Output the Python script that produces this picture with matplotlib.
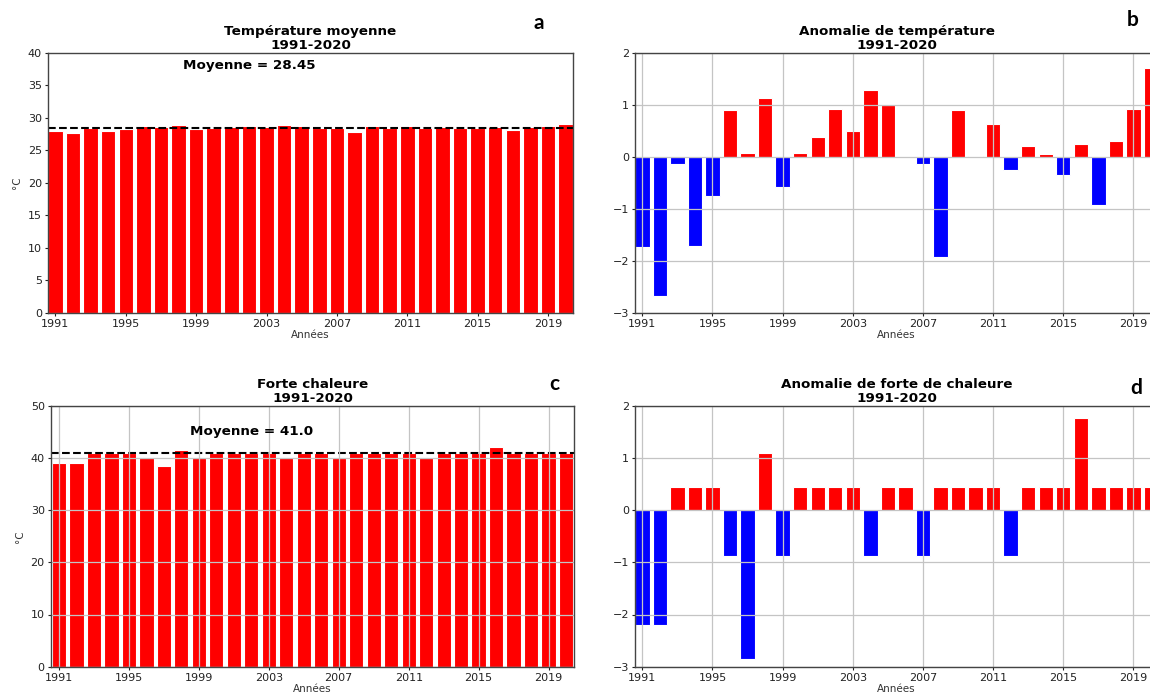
import matplotlib
matplotlib.use('Agg')
import matplotlib.pyplot as plt

years = list(range(1991, 2021))

temp_mean = [27.9, 27.6, 28.4, 27.9, 28.2, 28.7, 28.5, 28.8, 28.26, 28.47,
             28.57, 28.75, 28.6, 28.85, 28.77, 28.45, 28.4, 27.83, 28.74, 28.45,
             28.65, 28.37, 28.52, 28.47, 28.34, 28.52, 28.16, 28.55, 28.74, 29.0]
temp_anom = [-1.73, -2.68, -0.135, -1.71, -0.75, 0.89, 0.08, 1.13, -0.59, 0.064,
             0.386, 0.92, 0.49, 1.29, 0.99, 0.0, -0.15, -1.92, 0.90, 0.01,
             0.62, -0.26, 0.21, 0.06, -0.35, 0.245, -0.92, 0.31, 0.92, 1.70]
heat = [39, 39, 41, 41, 41, 40, 38.5, 41.5, 40, 41,
        41, 41, 41, 40, 41, 41, 40, 41, 41, 41,
        41, 40, 41, 41, 41, 42, 41, 41, 41, 41]
heat_anom = [-2.2, -2.2, 0.44, 0.44, 0.44, -0.88, -2.86, 1.1, -0.88, 0.44,
             0.44, 0.44, 0.44, -0.88, 0.44, 0.44, -0.88, 0.44, 0.44, 0.44,
             0.44, -0.88, 0.44, 0.44, 0.44, 1.76, 0.44, 0.44, 0.44, 0.44]
mean_temp = 28.45
mean_heat = 41.0
xticks = list(range(1991, 2021, 4))

W, H = 1150, 700
fig = plt.figure(figsize=(W / 100, H / 100), dpi=100)


def px_axes(l, t, r, b):
    return fig.add_axes([l / W, 1 - b / H, (r - l) / W, (b - t) / H])


ax_a = px_axes(48.3, 52.7, 572.7, 312.7)
ax_b = px_axes(635.3, 52.7, 1158, 312.7)
ax_c = px_axes(51, 405.7, 574, 666.7)
ax_d = px_axes(635.3, 405.7, 1158, 666.7)

TXT = '#222222'


def style(ax, grid, xlim):
    ax.set_xlim(*xlim)
    ax.set_xticks(xticks)
    ax.tick_params(labelsize=8, length=2.5, pad=2, colors=TXT)
    for s in ax.spines.values():
        s.set_color('#444444')
        s.set_linewidth(1.0)
        s.set_zorder(3)
    if grid:
        ax.grid(True, color='#c4c4c4', lw=0.9)
        ax.set_axisbelow(False)
    ax.set_xlabel('Années', fontsize=7.5, labelpad=1, color='#333333')


def title(ax, t):
    ax.set_title(t + '\n1991-2020', fontsize=9.7, fontweight='bold', pad=3,
                 linespacing=1.1)


bar_kw = dict(width=0.82, edgecolor='white', linewidth=0.8)

# a
ax_a.bar(years, temp_mean, color='red', **bar_kw)
ax_a.axhline(mean_temp, color='black', ls='--', lw=1.5)
ax_a.set_ylim(0, 40)
ax_a.set_yticks(range(0, 41, 5))
style(ax_a, False, (1990.6, 2020.4))
ax_a.set_ylabel('°C', fontsize=7.5, color='#333333')
ax_a.text(2002, 38, f'Moyenne = {mean_temp}', ha='center', va='center',
          fontsize=9.7, fontweight='bold')
title(ax_a, 'Température moyenne')

# b
cols_b = ['red' if v > 0 else 'blue' for v in temp_anom]
ax_b.bar(years, temp_anom, color=cols_b, **bar_kw)
ax_b.set_ylim(-3, 2)
ax_b.set_yticks(range(-3, 3))
style(ax_b, True, (1990.6, 2020.4))
title(ax_b, 'Anomalie de température')

# c
ax_c.bar(years, heat, color='red', **bar_kw)
ax_c.axhline(mean_heat, color='black', ls='--', lw=1.5)
ax_c.set_ylim(0, 50)
ax_c.set_yticks(range(0, 51, 10))
style(ax_c, True, (1990.55, 2020.45))
ax_c.set_ylabel('°C', fontsize=7.5, color='#333333')
ax_c.text(2002, 45, f'Moyenne = {mean_heat}', ha='center', va='center',
          fontsize=9.7, fontweight='bold')
title(ax_c, 'Forte chaleure')

# d
cols_d = ['red' if v > 0 else 'blue' for v in heat_anom]
ax_d.bar(years, heat_anom, color=cols_d, **bar_kw)
ax_d.set_ylim(-3, 2)
ax_d.set_yticks(range(-3, 3))
style(ax_d, True, (1990.6, 2020.4))
title(ax_d, 'Anomalie de forte de chaleure')

# panel letters
for lab, x, y in [('a', 539, 29), ('b', 1133, 26), ('c', 554, 390), ('d', 1136, 394)]:
    fig.text(x / W, 1 - y / H, lab, fontsize=15, fontweight='bold',
             family=['Lato', 'DejaVu Sans'], ha='center', va='baseline')

fig.savefig('out.png', dpi=100)
